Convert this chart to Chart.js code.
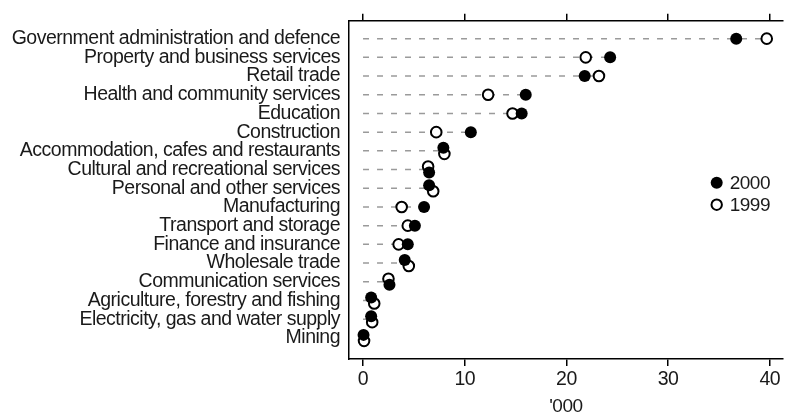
<!DOCTYPE html>
<html>
<head>
<meta charset="utf-8">
<script src="https://cdn.jsdelivr.net/npm/chart.js@4.4.1/dist/chart.umd.min.js"></script>
<style>
  body { margin: 0; background: #fff; }
  #wrap { width: 790px; height: 414px; }
</style>
</head>
<body>
<div id="wrap"><canvas id="dotChart"></canvas></div>
<script>
// Industries, top to bottom
const categories = [
  'Government administration and defence',
  'Property and business services',
  'Retail trade',
  'Health and community services',
  'Education',
  'Construction',
  'Accommodation, cafes and restaurants',
  'Cultural and recreational services',
  'Personal and other services',
  'Manufacturing',
  'Transport and storage',
  'Finance and insurance',
  'Wholesale trade',
  'Communication services',
  'Agriculture, forestry and fishing',
  'Electricity, gas and water supply',
  'Mining'
];
// values in '000
const values2000 = [36.7, 24.3, 21.8, 16.0, 15.6, 10.6, 7.9, 6.5, 6.5, 6.0, 5.1, 4.4, 4.1, 2.6, 0.8, 0.8, 0.05];
const values1999 = [39.7, 21.9, 23.2, 12.3, 14.7, 7.2, 8.0, 6.4, 6.9, 3.8, 4.4, 3.5, 4.5, 2.5, 1.1, 0.9, 0.1];
const xTicks = [0, 10, 20, 30, 40];
const seriesNames = ['2000', '1999'];

const FONT = '"Liberation Sans", Arial, sans-serif';
const TEXT = '#1a1a1a';

// when two dots nearly coincide, the smaller one sits a little higher, the larger a little lower
function rowOf(i, own, other) {
  if (Math.abs(own - other) >= 0.6) return i;
  return own < other ? i - 0.16 : i + 0.16;
}

// dashed guide from 0 out to the larger of the two values
const guideSets = categories.map((c, i) => ({
  type: 'line',
  data: [{ x: 0, y: i }, { x: Math.max(values2000[i], values1999[i]), y: i }],
  borderColor: '#9a9a9a',
  borderWidth: 1.5,
  borderDash: [6, 8],
  pointRadius: 0,
  fill: false
}));

// slightly tighter text, like the original
const tightText = {
  id: 'tightText',
  beforeLayout(chart) { chart.ctx.letterSpacing = '-0.5px'; },
  beforeDraw(chart) { chart.ctx.letterSpacing = '-0.5px'; }
};

// simple legend drawn at the right of the plot
const sideLegend = {
  id: 'sideLegend',
  afterDraw(chart) {
    const ctx = chart.ctx;
    const area = chart.chartArea;
    const x = area.right - 66;
    const y0 = area.top + 162;
    ctx.save();
    ctx.font = '19px ' + FONT;
    ctx.textBaseline = 'middle';
    seriesNames.forEach((name, k) => {
      const y = y0 + k * 22;
      ctx.beginPath();
      if (k === 0) {
        ctx.arc(x, y, 6, 0, Math.PI * 2);
        ctx.fillStyle = '#000';
        ctx.fill();
      } else {
        ctx.arc(x, y, 5.2, 0, Math.PI * 2);
        ctx.fillStyle = '#fff';
        ctx.fill();
        ctx.lineWidth = 2;
        ctx.strokeStyle = '#000';
        ctx.stroke();
      }
      ctx.fillStyle = TEXT;
      ctx.fillText(name, x + 13, y + 1);
    });
    ctx.restore();
  }
};

const ctx = document.getElementById('dotChart').getContext('2d');
new Chart(ctx, {
  type: 'scatter',
  data: {
    datasets: [
      {
        label: seriesNames[0],
        data: values2000.map((v, i) => ({ x: v, y: rowOf(i, v, values1999[i]) })),
        pointRadius: 6,
        pointBackgroundColor: '#000',
        pointBorderColor: '#000',
        pointBorderWidth: 0
      },
      {
        label: seriesNames[1],
        data: values1999.map((v, i) => ({ x: v, y: rowOf(i, v, values2000[i]) })),
        pointRadius: 5.3,
        pointBackgroundColor: '#fff',
        pointBorderColor: '#000',
        pointBorderWidth: 2
      },
      ...guideSets
    ]
  },
  options: {
    responsive: true,
    maintainAspectRatio: false,
    animation: false,
    layout: { padding: { top: 10, right: 0, bottom: 0, left: 0 } },
    plugins: {
      legend: { display: false },
      tooltip: { enabled: false }
    },
    scales: {
      x: {
        type: 'linear',
        position: 'bottom',
        min: -1.38,
        max: 41.27,
        afterBuildTicks: (scale) => { scale.ticks = xTicks.map(v => ({ value: v })); },
        afterFit: (scale) => { scale.height = 55; },
        border: { display: true, color: '#000', width: 1.5 },
        grid: { drawOnChartArea: false, drawTicks: true, tickLength: 7, color: '#000', lineWidth: 1.5 },
        ticks: { color: TEXT, padding: 2, font: { family: FONT, size: 19.5 } },
        title: {
          display: true,
          text: "'000",
          color: TEXT,
          padding: 0,
          font: { family: FONT, size: 19, lineHeight: 0.8 }
        }
      },
      xTop: {
        type: 'linear',
        position: 'top',
        min: -1.38,
        max: 41.27,
        afterBuildTicks: (scale) => { scale.ticks = xTicks.map(v => ({ value: v })); },
        afterFit: (scale) => { scale.height = 8; },
        border: { display: true, color: '#000', width: 1.5 },
        grid: { drawOnChartArea: false, drawTicks: true, tickLength: 7, color: '#000', lineWidth: 1.5 },
        ticks: { display: false }
      },
      y: {
        type: 'linear',
        reverse: true,
        min: -0.96,
        max: categories.length - 1 + 1.13,
        afterBuildTicks: (scale) => { scale.ticks = categories.map((c, i) => ({ value: i })); },
        afterFit: (scale) => { scale.width = 349; },
        border: { display: true, color: '#000', width: 1.5 },
        grid: { display: false, drawTicks: false },
        ticks: {
          autoSkip: false,
          color: TEXT,
          padding: 9,
          font: { family: FONT, size: 19.5 },
          callback: (v) => categories[v]
        }
      }
    }
  },
  plugins: [tightText, sideLegend]
});
</script>
</body>
</html>
